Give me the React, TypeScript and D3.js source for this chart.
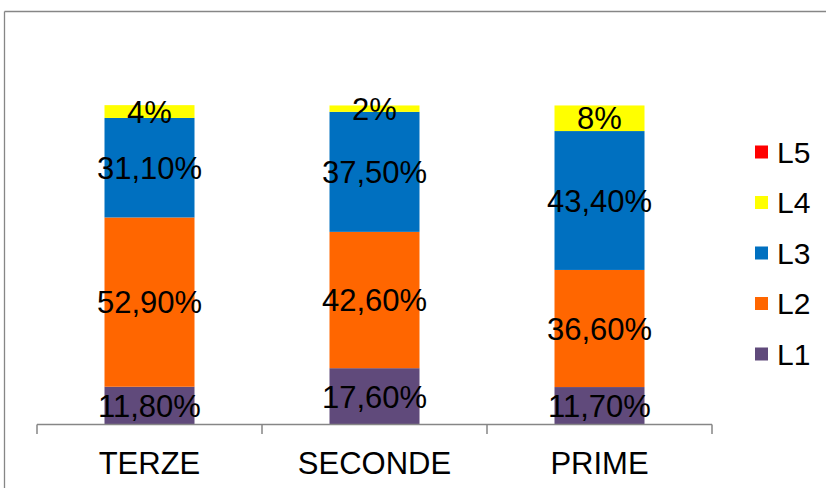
import React from "react";
import * as d3 from "d3";

const categories = ["TERZE", "SECONDE", "PRIME"];
const seriesNames = ["L1", "L2", "L3", "L4", "L5"];
const L1 = [11.8, 17.6, 11.7];
const L2 = [52.9, 42.6, 36.6];
const L3 = [31.1, 37.5, 43.4];
const L4 = [4, 2, 8];
const L5 = [0, 0, 0];
const labelsL1 = ["11,80%", "17,60%", "11,70%"];
const labelsL2 = ["52,90%", "42,60%", "36,60%"];
const labelsL3 = ["31,10%", "37,50%", "43,40%"];
const labelsL4 = ["4%", "2%", "8%"];
const colors = ["#604A7B", "#FF6600", "#0070C0", "#FFFF00", "#FF0000"];

const W = 826;
const H = 488;
const FONT = "'Liberation Sans', Arial, sans-serif";

export default function App() {
  const values = [L1, L2, L3, L4, L5];
  const labels = [labelsL1, labelsL2, labelsL3, labelsL4, null];
  const rows = categories.map((c, i) => {
    const r: any = { cat: c };
    seriesNames.forEach((s, k) => (r[s] = values[k][i]));
    return r;
  });
  const stack = d3.stack<any>().keys(seriesNames)(rows);

  const x = d3.scaleBand().domain(categories).range([37, 712]).paddingInner(0).paddingOuter(0);
  const y = d3.scaleLinear().domain([0, 100]).range([424.5, 104.5]);
  const barW = x.bandwidth() * 0.4;

  const ticks = [...categories.map((c) => x(c)!), 712];

  return (
    <div style={{ position: "absolute", left: 0, top: 0, width: W, height: H, overflow: "hidden" }}>
      <svg width={W} height={H} style={{ display: "block" }}>
        <rect x={0} y={0} width={W} height={H} fill="#fff" />
        <line x1={4.5} x2={W} y1={11.5} y2={11.5} stroke="#868686" strokeWidth={1.3} />
        <line x1={4.5} x2={4.5} y1={11.5} y2={H} stroke="#868686" strokeWidth={1.3} />
        {stack.map((layer, k) =>
          layer.map((d, i) => {
            const cx = x(categories[i])! + x.bandwidth() / 2;
            const y0 = y(d[0]);
            const y1 = y(d[1]);
            if (y0 - y1 <= 0) return null;
            return (
              <rect
                key={`${k}-${i}`}
                x={cx - barW / 2}
                y={y1}
                width={barW}
                height={y0 - y1}
                fill={colors[k]}
              />
            );
          })
        )}
        {stack.map((layer, k) =>
          labels[k]
            ? layer.map((d, i) => {
                const cx = x(categories[i])! + x.bandwidth() / 2;
                const cy = (y(d[0]) + y(d[1])) / 2;
                return (
                  <text
                    key={`l${k}-${i}`}
                    x={cx}
                    y={cy}
                    dy="0.36em"
                    textAnchor="middle"
                    fontFamily={FONT}
                    fontSize={31}
                    fill="#000"
                  >
                    {labels[k]![i]}
                  </text>
                );
              })
            : null
        )}
        <line x1={37} x2={712} y1={424.5} y2={424.5} stroke="#868686" strokeWidth={1.5} />
        {ticks.map((t, i) => (
          <line key={i} x1={t} x2={t} y1={424.5} y2={434} stroke="#868686" strokeWidth={1.5} />
        ))}
        {categories.map((c) => (
          <text
            key={c}
            x={x(c)! + x.bandwidth() / 2}
            y={474}
            textAnchor="middle"
            fontFamily={FONT}
            fontSize={31}
            fill="#000"
          >
            {c}
          </text>
        ))}
        {seriesNames
          .map((s, k) => ({ s, k }))
          .reverse()
          .map(({ s, k }, j) => {
            const cy = 152 + j * 50.5;
            return (
              <g key={s}>
                <rect x={755} y={cy - 6.5} width={13} height={13} fill={colors[k]} />
                <text x={777} y={cy} dy="0.36em" fontFamily={FONT} fontSize={30} fill="#000">
                  {s}
                </text>
              </g>
            );
          })}
      </svg>
    </div>
  );
}
